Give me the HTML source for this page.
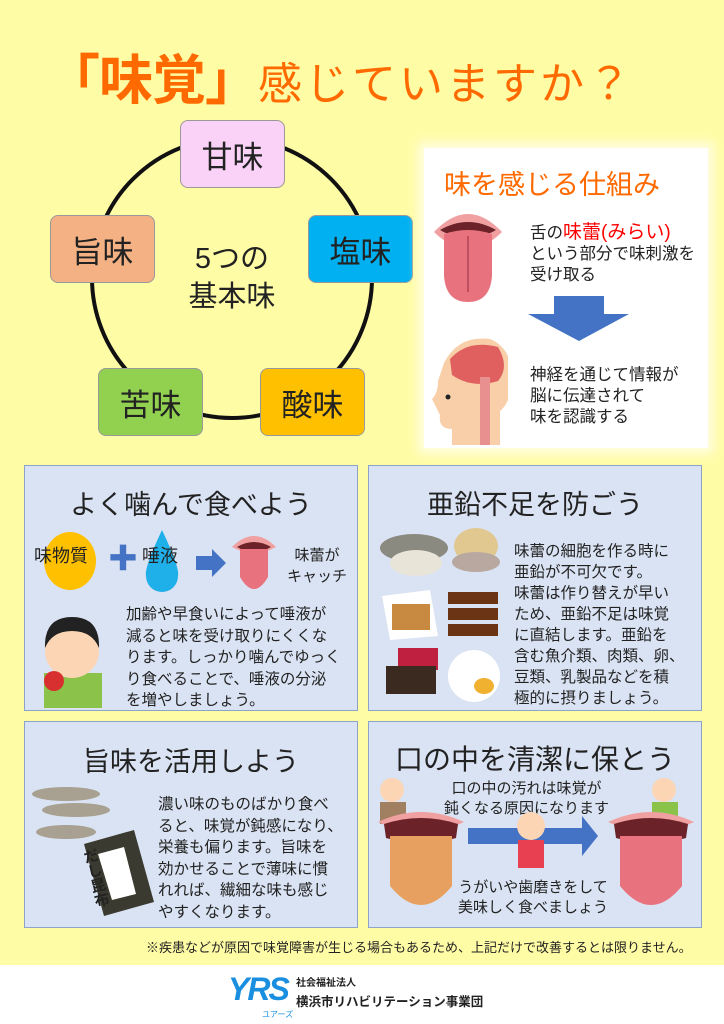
<!DOCTYPE html>
<html><head><meta charset="utf-8"><style>
*{margin:0;padding:0;box-sizing:border-box}
body{width:724px;height:1024px;position:relative;background:#fffca6;font-family:"Liberation Sans","Noto Sans CJK JP",sans-serif;color:#222;overflow:hidden}
.a{position:absolute}
.box{position:absolute;width:105px;height:68px;border:1px solid #999;border-radius:8px;font-size:31px;display:flex;align-items:center;justify-content:center}
.pan{position:absolute;background:#dae3f3;border:1.5px solid #8ea3c8}
.pt{position:absolute;left:0;right:0;text-align:center;font-size:27px}
.tx{position:absolute;font-size:15.5px;line-height:21.5px;white-space:nowrap}
</style></head><body>
<div class="a" style="left:46px;top:36px;font-size:54px;color:#ff6a00;white-space:nowrap;font-weight:bold;letter-spacing:-1px">「味覚」<span style="font-size:44px;font-weight:normal;letter-spacing:3px">感じていますか？</span></div>
<svg class="a" style="left:0;top:0" width="724" height="460">
<circle cx="232" cy="278" r="140" fill="none" stroke="#111" stroke-width="4"/>
</svg>
<div class="box" style="left:180px;top:120px;background:#fbd2f7">甘味</div>
<div class="box" style="left:308px;top:215px;background:#00b0f0">塩味</div>
<div class="box" style="left:260px;top:368px;background:#ffc000">酸味</div>
<div class="box" style="left:98px;top:368px;background:#92d050">苦味</div>
<div class="box" style="left:50px;top:215px;background:#f4b183">旨味</div>
<div class="a" style="left:172px;top:240px;font-size:29px;line-height:38px;text-align:center;width:120px">5つの<br>基本味</div>

<div class="a" style="left:424px;top:148px;width:284px;height:300px;background:#fff;box-shadow:0 0 10px 6px #fffde0"></div>
<div class="a" style="left:444px;top:163px;font-size:27px;color:#ff6a00">味を感じる仕組み</div>
<svg class="a" style="left:432px;top:202px" width="72" height="105"><path d="M2 30 Q36 -6 70 30 Q54 46 36 46 Q18 46 2 30Z" fill="#f0a0a0"/><path d="M8 28 Q36 12 64 28 Q36 44 8 28Z" fill="#6b2228"/><path d="M12 32 Q36 24 60 32 L60 74 Q58 100 36 100 Q14 100 12 74Z" fill="#e8737e"/><path d="M36 34 V90" stroke="#c05060" stroke-width="2"/></svg>
<div class="tx" style="left:530px;top:222px;font-size:16.5px;line-height:21px">舌の<span style="color:#f00;font-size:19px">味蕾(みらい)</span><br>という部分で味刺激を<br>受け取る</div>
<svg class="a" style="left:524px;top:296px" width="108" height="48"><path d="M30 0H80V18H105L55 45L4 18H30Z" fill="#4472c4"/></svg>
<svg class="a" style="left:428px;top:333px" width="80" height="112"><path d="M16 30 Q30 2 62 6 Q86 16 84 50 Q82 70 72 78 L72 112 H24 L24 96 Q10 96 12 82 L4 66 Q10 60 10 48Z" fill="#f8cfa8"/><path d="M22 26 Q40 6 70 14 Q82 34 70 48 Q44 56 24 42Z" fill="#e06060"/><rect x="52" y="44" width="10" height="68" fill="#e89090"/><circle cx="20" cy="64" r="2.5" fill="#222"/></svg>
<div class="tx" style="left:530px;top:365px;font-size:16.5px;line-height:21px">神経を通じて情報が<br>脳に伝達されて<br>味を認識する</div>

<div class="pan" style="left:24px;top:465px;width:334px;height:246px"></div>
<div class="pt" style="left:24px;width:334px;top:483px">よく噛んで食べよう</div>
<div class="a" style="left:44px;top:532px;width:52px;height:58px;border-radius:50%;background:#ffc000"></div>
<div class="tx" style="left:34px;top:546px;font-size:18px">味物質</div>
<div class="a" style="left:108px;top:545px;font-size:30px;color:#4472c4;font-weight:bold;line-height:30px">✚</div>
<svg class="a" style="left:142px;top:528px" width="40" height="66"><path d="M20 2 Q38 40 36 48 A16 16 0 0 1 4 48 Q2 40 20 2Z" fill="#1fb0ea"/></svg>
<div class="tx" style="left:142px;top:546px;font-size:18px">唾液</div>
<svg class="a" style="left:196px;top:549px" width="32" height="28"><path d="M0 7H16V0L30 14L16 28V21H0Z" fill="#4472c4"/></svg>
<svg class="a" style="left:230px;top:529px" width="48" height="66"><path d="M2 18 Q24 -4 46 18 Q24 30 2 18Z" fill="#f0a0a0"/><path d="M7 18 Q24 8 41 18 Q24 28 7 18Z" fill="#6b2228"/><path d="M10 20 H38 V48 Q24 72 10 48Z" fill="#e8737e"/></svg>
<div class="tx" style="left:287px;top:545px;font-size:15px;line-height:21px;text-align:center">味蕾が<br>キャッチ</div>
<svg class="a" style="left:32px;top:603px" width="80" height="105"><rect x="12" y="70" width="58" height="35" fill="#8bc34a"/><circle cx="40" cy="48" r="27" fill="#fcd6b4"/><path d="M13 45 Q12 14 40 14 Q68 14 67 45 Q60 28 40 28 Q20 28 13 45Z" fill="#222"/><circle cx="22" cy="78" r="10" fill="#d83030"/></svg>
<div class="tx" style="left:126px;top:604px">加齢や早食いによって唾液が<br>減ると味を受け取りにくくな<br>ります。しっかり噛んでゆっく<br>り食べることで、唾液の分泌<br>を増やしましょう。</div>

<div class="pan" style="left:368px;top:465px;width:334px;height:246px"></div>
<div class="pt" style="left:368px;width:334px;top:483px">亜鉛不足を防ごう</div>
<svg class="a" style="left:376px;top:526px" width="136" height="180"><ellipse cx="38" cy="22" rx="34" ry="14" fill="#8a8a80"/><ellipse cx="40" cy="37" rx="26" ry="13" fill="#e8e4d8"/><ellipse cx="100" cy="20" rx="22" ry="18" fill="#e0c890"/><ellipse cx="100" cy="36" rx="24" ry="10" fill="#b8a8a0"/><path d="M6 70 L54 64 L62 110 L14 114Z" fill="#fff"/><rect x="16" y="78" width="38" height="26" fill="#c88a40"/><g fill="#6b3515"><rect x="72" y="66" width="50" height="12"/><rect x="72" y="82" width="50" height="12"/><rect x="72" y="98" width="50" height="12"/></g><rect x="22" y="122" width="40" height="22" fill="#c02040"/><rect x="10" y="140" width="50" height="28" fill="#3a2a20"/><ellipse cx="98" cy="150" rx="26" ry="26" fill="#fff"/><ellipse cx="108" cy="160" rx="10" ry="8" fill="#f0b030"/></svg>
<div class="tx" style="left:514px;top:541px;line-height:21px">味蕾の細胞を作る時に<br>亜鉛が不可欠です。<br>味蕾は作り替えが早い<br>ため、亜鉛不足は味覚<br>に直結します。亜鉛を<br>含む魚介類、肉類、卵、<br>豆類、乳製品などを積<br>極的に摂りましょう。</div>

<div class="pan" style="left:24px;top:721px;width:334px;height:207px"></div>
<div class="pt" style="left:24px;width:334px;top:740px">旨味を活用しよう</div>
<svg class="a" style="left:26px;top:784px" width="130" height="140"><ellipse cx="40" cy="10" rx="34" ry="7" fill="#a8a090"/><ellipse cx="50" cy="26" rx="34" ry="7" fill="#a8a090"/><ellipse cx="40" cy="48" rx="30" ry="7" fill="#a8a090"/><path d="M58 60 L108 46 L128 118 L78 132Z" fill="#3a3a30"/><path d="M72 70 L98 63 L110 110 L86 116Z" fill="#fff"/></svg>
<div class="a" style="left:88px;top:848px;font-size:15px;line-height:15px;font-weight:bold;writing-mode:vertical-rl;transform:rotate(-14deg)">だし昆布</div>
<div class="tx" style="left:158px;top:794px;line-height:21.5px">濃い味のものばかり食べ<br>ると、味覚が鈍感になり、<br>栄養も偏ります。旨味を<br>効かせることで薄味に慣<br>れれば、繊細な味も感じ<br>やすくなります。</div>

<div class="pan" style="left:368px;top:721px;width:334px;height:207px"></div>
<div class="pt" style="left:368px;width:334px;top:738px;font-size:28px">口の中を清潔に保とう</div>
<div class="tx" style="left:444px;top:779px;font-size:15px;line-height:20px;text-align:center">口の中の汚れは味覚が<br>鈍くなる原因になります</div>
<svg class="a" style="left:376px;top:776px" width="320" height="150"><circle cx="16" cy="14" r="12" fill="#fcd6b4"/><rect x="4" y="26" width="26" height="22" fill="#a08060"/><path d="M2 46 Q45 26 88 46 Q45 66 2 46Z" fill="#f0a0a0"/><path d="M8 48 Q45 36 82 48 L80 62 Q45 72 10 62Z" fill="#6b2228"/><path d="M14 60 H76 V110 Q45 148 14 110Z" fill="#e8a060"/><path d="M92 52 H206 V40 L222 60 L206 80 V68 H92Z" fill="#4472c4"/><circle cx="155" cy="50" r="14" fill="#fcd6b4"/><rect x="142" y="64" width="26" height="28" fill="#e84050"/><circle cx="288" cy="14" r="12" fill="#fcd6b4"/><rect x="276" y="26" width="26" height="22" fill="#8bc34a"/><path d="M232 46 Q275 26 318 46 Q275 66 232 46Z" fill="#f0a0a0"/><path d="M238 48 Q275 36 312 48 L310 62 Q275 72 240 62Z" fill="#6b2228"/><path d="M244 60 H306 V110 Q275 148 244 110Z" fill="#e8737e"/></svg>
<div class="tx" style="left:458px;top:878px;font-size:15px;line-height:20px;text-align:center">うがいや歯磨きをして<br>美味しく食べましょう</div>

<div class="tx" style="left:146px;top:937px;font-size:13px">※疾患などが原因で味覚障害が生じる場合もあるため、上記だけで改善するとは限りません。</div>
<div class="a" style="left:0;top:965px;width:724px;height:59px;background:#fff"></div>
<div class="a" style="left:228px;top:971px;font-size:32px;font-weight:bold;color:#1a8fe0;font-style:italic;letter-spacing:-2px">YRS</div>
<div class="a" style="left:262px;top:1009px;font-size:8px;color:#1a8fe0">ユアーズ</div>
<div class="tx" style="left:296px;top:977px;font-size:10px;line-height:14px;font-weight:bold">社会福祉法人</div>
<div class="tx" style="left:296px;top:992px;font-size:12.5px;font-weight:bold">横浜市リハビリテーション事業団</div>
</body></html>
